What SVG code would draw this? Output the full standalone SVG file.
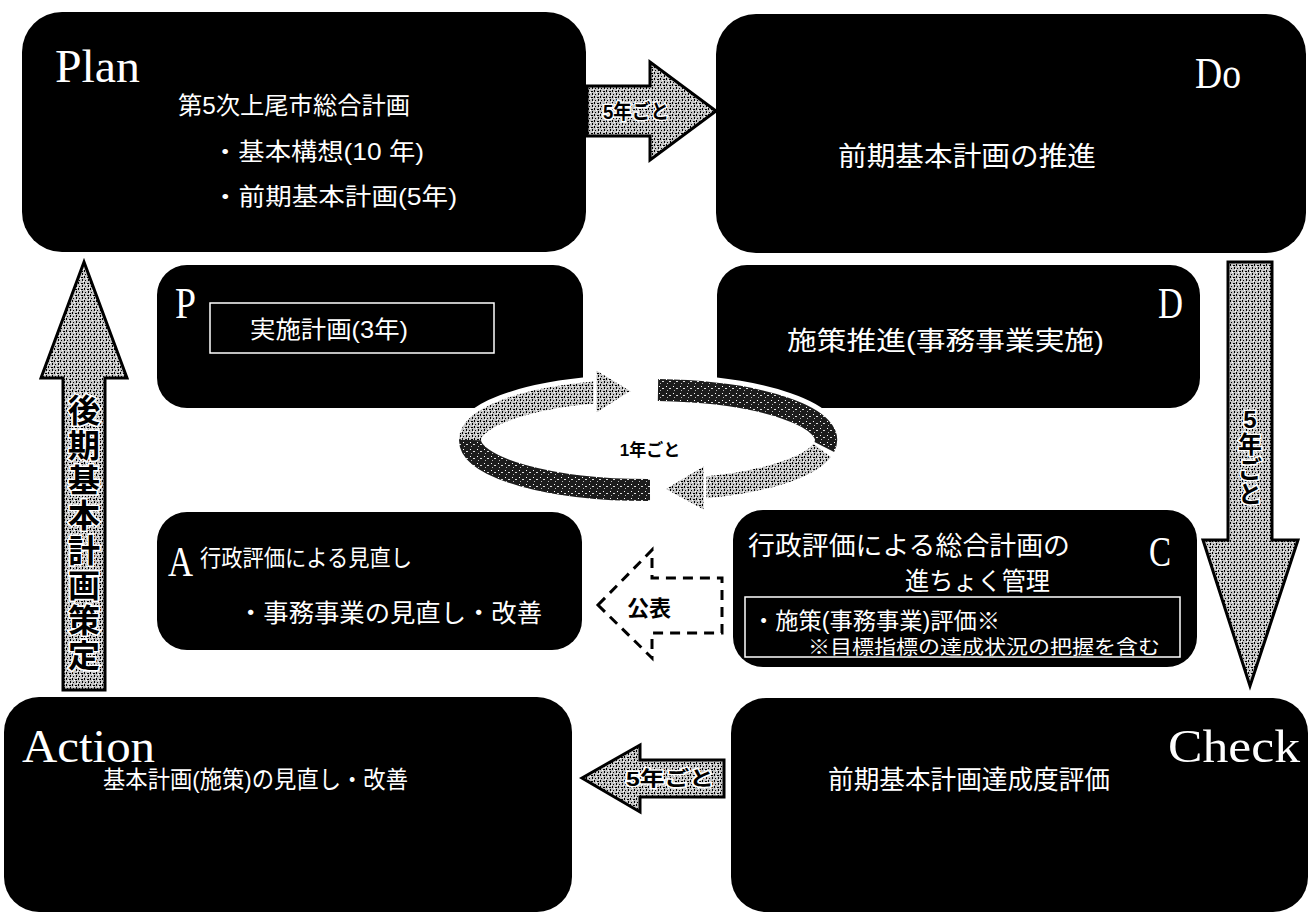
<svg xmlns="http://www.w3.org/2000/svg" width="1312" height="917" viewBox="0 0 1312 917">
<defs>
<pattern id="st" width="6" height="6" patternUnits="userSpaceOnUse">
<rect width="6" height="6" fill="#c4c4c4"/>
<rect x="0" y="0" width="1" height="2" fill="#000"/>
<rect x="3" y="1" width="2" height="1" fill="#000"/>
<rect x="1" y="4" width="1" height="1" fill="#000"/>
<rect x="4" y="3" width="1" height="2" fill="#000"/>
<rect x="2" y="2" width="1" height="1" fill="#fff"/>
<rect x="5" y="5" width="1" height="1" fill="#fff"/>
</pattern>
<pattern id="dk" width="7" height="7" patternUnits="userSpaceOnUse">
<rect width="7" height="7" fill="#1c1c1c"/>
<rect x="1" y="1" width="1" height="1" fill="#fff"/>
<rect x="4" y="3" width="2" height="1" fill="#ddd"/>
<rect x="2" y="5" width="1" height="1" fill="#bbb"/>
</pattern>
</defs>
<style>
.box{fill:#000}
.lat{font-family:'Liberation Serif',serif;fill:#fff}
.jp{font-family:'Liberation Sans','Noto Sans CJK JP',sans-serif;fill:#fff}
.arr{fill:url(#st);stroke:#000;stroke-width:3;stroke-linejoin:miter}
.al{font-family:'Liberation Sans','Noto Sans CJK JP',sans-serif;font-weight:bold;fill:#000;stroke:#fff;stroke-width:3;paint-order:stroke}
.frame{fill:none;stroke:#fff;stroke-width:1.5}
.halo{fill:none;stroke:#fff;stroke-width:32}
.band{fill:none;stroke:url(#dk);stroke-width:22}
.bandl{fill:none;stroke:url(#st);stroke-width:22}
.head{stroke:#fff;stroke-width:3}
</style>
<rect width="1312" height="917" fill="#fff"/>

<g id="plan">
<rect class="box" x="22" y="12" width="564" height="240" rx="40"/>
<text class="lat" x="55" y="82" font-size="46" textLength="85" lengthAdjust="spacingAndGlyphs">Plan</text>
<text class="jp" x="178" y="114" font-size="24" textLength="232" lengthAdjust="spacingAndGlyphs">第5次上尾市総合計画</text>
<text class="jp" x="212" y="160" font-size="24" textLength="212" lengthAdjust="spacingAndGlyphs">・基本構想(10 年)</text>
<text class="jp" x="212" y="205" font-size="24" textLength="245" lengthAdjust="spacingAndGlyphs">・前期基本計画(5年)</text>
</g>

<g id="do">
<rect class="box" x="716" y="14" width="590" height="239" rx="40"/>
<text class="lat" x="1195" y="88" font-size="44" textLength="46" lengthAdjust="spacingAndGlyphs">Do</text>
<text class="jp" x="838" y="166" font-size="27" textLength="258" lengthAdjust="spacingAndGlyphs">前期基本計画の推進</text>
</g>

<g id="p">
<rect class="box" x="157" y="265" width="426" height="143" rx="30"/>
<text class="lat" x="175" y="318" font-size="44" textLength="21" lengthAdjust="spacingAndGlyphs">P</text>
<rect class="frame" x="210" y="303" width="284" height="50"/>
<text class="jp" x="250" y="338" font-size="24" textLength="158" lengthAdjust="spacingAndGlyphs">実施計画(3年)</text>
</g>

<g id="d">
<rect class="box" x="717" y="265" width="483" height="143" rx="30"/>
<text class="lat" x="1158" y="318" font-size="44" textLength="25" lengthAdjust="spacingAndGlyphs">D</text>
<text class="jp" x="787" y="350" font-size="26" textLength="317" lengthAdjust="spacingAndGlyphs">施策推進(事務事業実施)</text>
</g>

<g id="a">
<rect class="box" x="157" y="512" width="425" height="138" rx="30"/>
<text class="lat" x="168" y="576" font-size="42" textLength="25" lengthAdjust="spacingAndGlyphs">A</text>
<text class="jp" x="200" y="566" font-size="23" textLength="212" lengthAdjust="spacingAndGlyphs">行政評価による見直し</text>
<text class="jp" x="238" y="622" font-size="25" textLength="304" lengthAdjust="spacingAndGlyphs">・事務事業の見直し・改善</text>
</g>

<g id="c">
<rect class="box" x="733" y="510" width="464" height="157" rx="30"/>
<text class="jp" x="748" y="555" font-size="26" textLength="322" lengthAdjust="spacingAndGlyphs">行政評価による総合計画の</text>
<text class="lat" x="1149" y="566" font-size="42" textLength="22" lengthAdjust="spacingAndGlyphs">C</text>
<text class="jp" x="905" y="590" font-size="25" textLength="145" lengthAdjust="spacingAndGlyphs">進ちょく管理</text>
<rect class="frame" x="745" y="597" width="435" height="60"/>
<text class="jp" x="752" y="629" font-size="23" textLength="248" lengthAdjust="spacingAndGlyphs">・施策(事務事業)評価※</text>
<text class="jp" x="808" y="654" font-size="19" textLength="352" lengthAdjust="spacingAndGlyphs">※目標指標の達成状況の把握を含む</text>
</g>

<g id="action">
<rect class="box" x="4" y="697" width="568" height="215" rx="35"/>
<text class="lat" x="22" y="762" font-size="46" textLength="133" lengthAdjust="spacingAndGlyphs">Action</text>
<text class="jp" x="103" y="788" font-size="24" textLength="305" lengthAdjust="spacingAndGlyphs">基本計画(施策)の見直し・改善</text>
</g>

<g id="check">
<rect class="box" x="731" y="698" width="577" height="214" rx="35"/>
<text class="lat" x="1168" y="762" font-size="46" textLength="132" lengthAdjust="spacingAndGlyphs">Check</text>
<text class="jp" x="828" y="789" font-size="26" textLength="282" lengthAdjust="spacingAndGlyphs">前期基本計画達成度評価</text>
</g>

<g id="connectors">
<g id="plan-do">
<polygon class="arr" points="587,86 650,86 650,62 716,111 650,160 650,136 587,136"/>
<text class="al" x="603" y="119" font-size="20" textLength="66" lengthAdjust="spacingAndGlyphs">5年ごと</text>
</g>
<g id="do-check">
<polygon class="arr" points="1228,262 1272,262 1272,540 1298,540 1250,686 1203,540 1228,540"/>
<text class="al" x="1250" y="428" font-size="24" text-anchor="middle">5</text>
<text class="al" x="1250" y="453" font-size="24" text-anchor="middle">年</text>
<text class="al" x="1250" y="478" font-size="24" text-anchor="middle">ご</text>
<text class="al" x="1250" y="503" font-size="24" text-anchor="middle">と</text>
</g>
<g id="check-action">
<polygon class="arr" points="582,778 640,745 640,760 724,760 724,797 640,797 640,812"/>
<text class="al" x="626" y="786" font-size="20" textLength="88" lengthAdjust="spacingAndGlyphs">5年ごと</text>
</g>
<g id="action-plan">
<polygon class="arr" points="84,262 127,378 105,378 105,690 63,690 63,378 41,378"/>
<text class="al" x="84" y="422" font-size="32" text-anchor="middle">後</text>
<text class="al" x="84" y="457" font-size="32" text-anchor="middle">期</text>
<text class="al" x="84" y="492" font-size="32" text-anchor="middle">基</text>
<text class="al" x="84" y="527" font-size="32" text-anchor="middle">本</text>
<text class="al" x="84" y="562" font-size="32" text-anchor="middle">計</text>
<text class="al" x="84" y="597" font-size="32" text-anchor="middle">画</text>
<text class="al" x="84" y="632" font-size="32" text-anchor="middle">策</text>
<text class="al" x="84" y="667" font-size="32" text-anchor="middle">定</text>
</g>
<g id="c-a">
<polygon points="598,605 652,550 652,578 722,578 722,633 652,633 652,658" fill="#fff" stroke="#000" stroke-width="3" stroke-dasharray="10,7"/>
<text x="627" y="616" font-size="22" font-family="'Liberation Sans','Noto Sans CJK JP',sans-serif" font-weight="bold" fill="#000">公表</text>
</g>
<g id="cycle">
<path class="halo" d="M 470 440 A 178 50 0 0 1 597 392.3"/>
<path class="halo" d="M 658 390.1 A 178 50 0 0 1 824.3 447"/>
<path class="halo" d="M 822.1 450.4 A 178 50 0 0 1 703 487.6"/>
<path class="halo" d="M 650 490 A 178 50 0 0 1 470 440"/>
<path class="band" d="M 650 490 A 178 50 0 0 1 470 440"/>
<path class="band" d="M 658 390.1 A 178 50 0 0 1 824.3 447"/>
<path class="bandl" d="M 470 440 A 178 50 0 0 1 597 392.3"/>
<path class="bandl" d="M 822.1 450.4 A 178 50 0 0 1 703 487.6"/>
<polygon class="head" fill="url(#st)" points="595,368 633,391 595,415"/>
<polygon class="head" fill="url(#st)" points="705,464 663,489 705,512"/>
<text x="650" y="456" font-size="17" font-family="'Liberation Sans','Noto Sans CJK JP',sans-serif" font-weight="bold" fill="#000" text-anchor="middle">1年ごと</text>
</g>
</g>
</svg>
